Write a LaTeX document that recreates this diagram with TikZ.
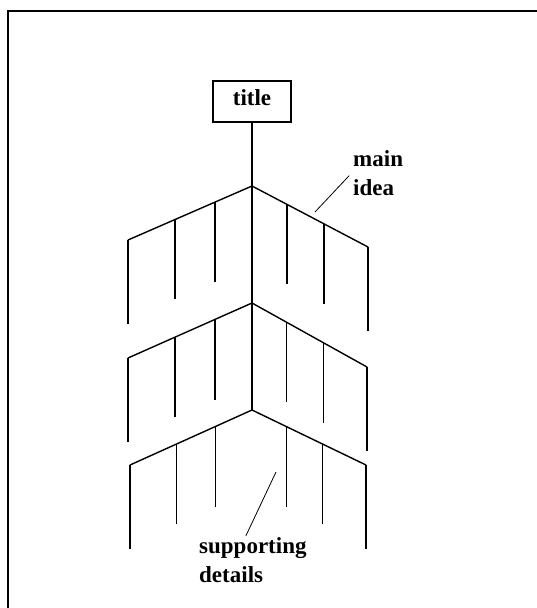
\documentclass[tikz,border=0pt]{standalone}
\usepackage{fontspec}
\setmainfont{Liberation Serif}
\usetikzlibrary{calc}
\begin{document}
\begin{tikzpicture}[x=1pt,y=-1pt]
\tikzset{every node/.style={font=\bfseries\fontsize{23}{29}\selectfont}}
\tikzset{bone/.style={line width=1.4pt}}
\tikzset{pointer/.style={line width=0.8pt}}

\useasboundingbox (0,0) rectangle (537,608);
\draw[line width=2.4pt] (8,608) -- (8,11) -- (537,11);

\node[draw,bone,minimum width=78pt,minimum height=41pt,inner sep=0pt,text height=16pt,text depth=9pt] (title) at (252,101.5) {title};

\foreach \row/\ay/\lx/\ly/\rx/\ry in {a/186/128/240/368/247, b/303/128/358/367/367, c/410/130/465/366/465} {
  \coordinate (\row) at (252,\ay);
  \coordinate (\row L) at (\lx,\ly);
  \coordinate (\row R) at (\rx,\ry);
  \draw[bone] (\row L) -- (\row) -- (\row R);
  \draw[bone] (\row L) -- ++(0,84);
  \draw[bone] (\row R) -- ++(0,84);
  \foreach \t in {0.3,0.62} {
    \draw[bone] ($(\row)!\t!(\row L)$) -- ++(0,80);
    \draw[bone] ($(\row)!\t!(\row R)$) -- ++(0,80);
  }
}
\draw[bone] (title) -- (c);

\node[anchor=base west,align=left,inner sep=1pt] (mainidea) at (352,195) {main\\idea};
\node[anchor=base west,align=left,inner sep=1pt] (details) at (198,582) {supporting\\details};
\coordinate (ideatip) at (315,212);
\coordinate (detailtip) at (276,472);
\draw[pointer,shorten <=4pt] (mainidea.west) -- (ideatip);
\draw[pointer] ([xshift=-7pt]details.north) -- (detailtip);

\end{tikzpicture}
\end{document}
